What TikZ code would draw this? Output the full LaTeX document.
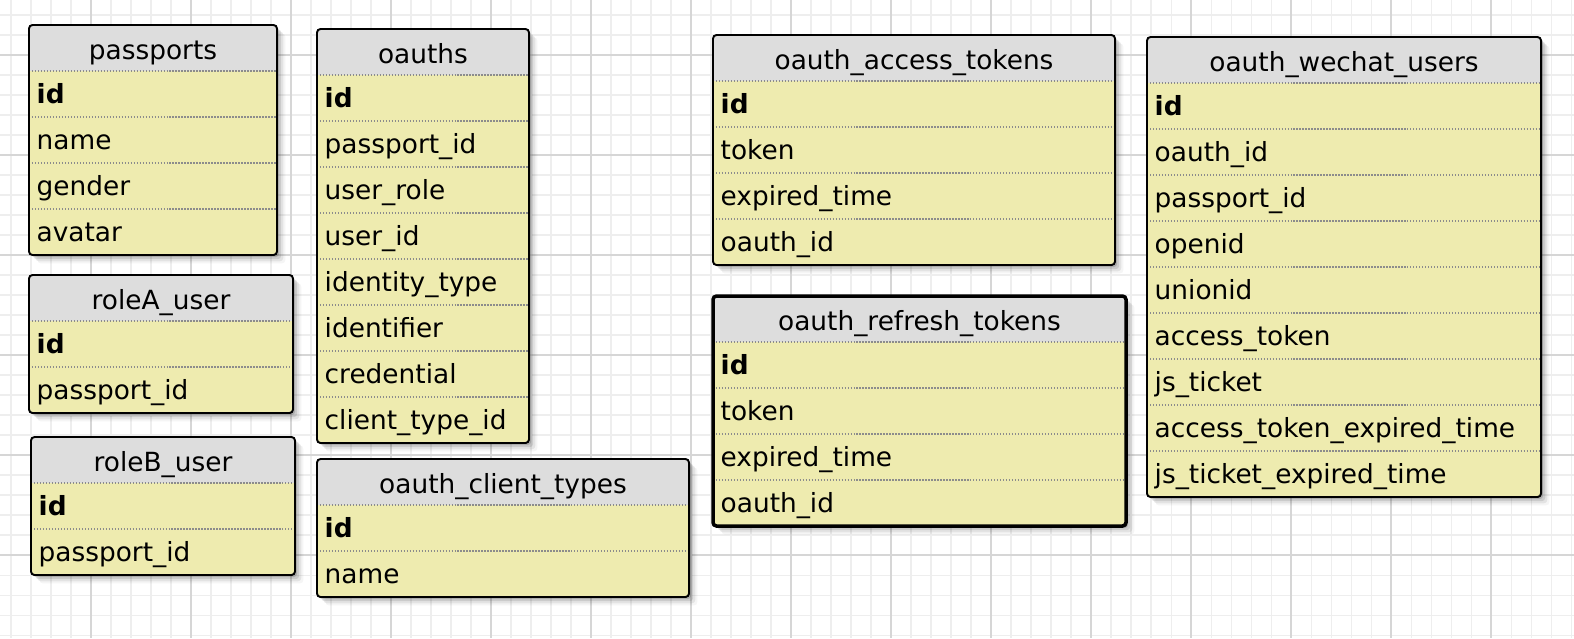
\documentclass[tikz,border=0pt]{standalone}
\usepackage{fontspec}
\setmainfont{DejaVu Sans}
\usetikzlibrary{shadows}
\definecolor{headgray}{RGB}{221,221,221}
\definecolor{rowyellow}{RGB}{238,235,175}
\definecolor{gridlight}{RGB}{238,238,238}
\definecolor{griddark}{RGB}{214,214,214}
\tikzset{
  gridminor/.style={gridlight,line width=.3pt},
  gridmajor/.style={griddark,line width=.45pt},
  tablebox/.style={rounded corners=1pt,line width=.55pt},
  softshadow/.style={drop shadow={shadow xshift=.6pt,shadow yshift=-.6pt,fill=black,opacity=.15},
    drop shadow={shadow xshift=1.2pt,shadow yshift=-1.2pt,fill=black,opacity=.1},
    drop shadow={shadow xshift=1.8pt,shadow yshift=-1.8pt,fill=black,opacity=.07},
    drop shadow={shadow xshift=2.4pt,shadow yshift=-2.4pt,fill=black,opacity=.04}},
  selected/.style={line width=1pt},
  rowsep/.style={black!45,line width=.5pt,dash pattern=on .4pt off .45pt},
  tabletitle/.style={anchor=base,inner sep=0pt},
  field/.style={anchor=base west,inner sep=0pt}
}
% #1 border style, #2 name, #3 x, #4 y, #5 width, #6 rows, #7 title, #8 fields
\newcommand{\erdtable}[8][]{
  \path[fill=rowyellow,softshadow,rounded corners=1pt] (#3,#4) rectangle ++(#5,{46*(#6+1)});
  \begin{scope}
    \clip[rounded corners=1pt] (#3,#4) rectangle ++(#5,{46*(#6+1)});
    \fill[headgray] (#3,#4) rectangle ++(#5,46);
  \end{scope}
  \foreach \f [count=\i] in {#8}{
    \draw[rowsep] (#3,{#4+46*\i}) -- ++(#5,0);
    \node[field] (#2-\i) at ({#3+7},{#4+46*\i+32}) {\f};
  }
  \draw[tablebox,#1] (#3,#4) rectangle ++(#5,{46*(#6+1)});
  \node[tabletitle] (#2) at ({#3+#5/2},{#4+34}) {#7};
}
\begin{document}
\begin{tikzpicture}[x=0.01cm,y=-0.01cm,every node/.style={font=\fontsize{7.5}{9}\selectfont}]
\useasboundingbox (0,0) rectangle (1574,638);
\fill[white] (0,0) rectangle (1574,638);
% grid
\foreach \gx in {11,31,...,1571} \draw[gridminor] (\gx,0) -- (\gx,638);
\foreach \gy in {15,35,...,635} \draw[gridminor] (0,\gy) -- (1574,\gy);
\foreach \gx in {91,191,...,1491} \draw[gridmajor] (\gx,0) -- (\gx,638);
\foreach \gy in {55,155,...,555} \draw[gridmajor] (0,\gy) -- (1574,\gy);
% tables
\erdtable{passports}{29}{25}{248}{4}{passports}{\textbf{id},name,gender,avatar}
\erdtable{oauths}{317}{29}{212}{8}{oauths}{\textbf{id},passport\_id,user\_role,user\_id,identity\_type,identifier,credential,client\_type\_id}
\erdtable{roleA}{29}{275}{264}{2}{roleA\_user}{\textbf{id},passport\_id}
\erdtable{roleB}{31}{437}{264}{2}{roleB\_user}{\textbf{id},passport\_id}
\erdtable{clienttypes}{317}{459}{372}{2}{oauth\_client\_types}{\textbf{id},name}
\erdtable{accesstokens}{713}{35}{402}{4}{oauth\_access\_tokens}{\textbf{id},token,expired\_time,oauth\_id}
\erdtable[selected]{refreshtokens}{713}{296}{413}{4}{oauth\_refresh\_tokens}{\textbf{id},token,expired\_time,oauth\_id}
\erdtable{wechatusers}{1147}{37}{394}{9}{oauth\_wechat\_users}{\textbf{id},oauth\_id,passport\_id,openid,unionid,access\_token,js\_ticket,access\_token\_expired\_time,js\_ticket\_expired\_time}
\end{tikzpicture}
\end{document}
